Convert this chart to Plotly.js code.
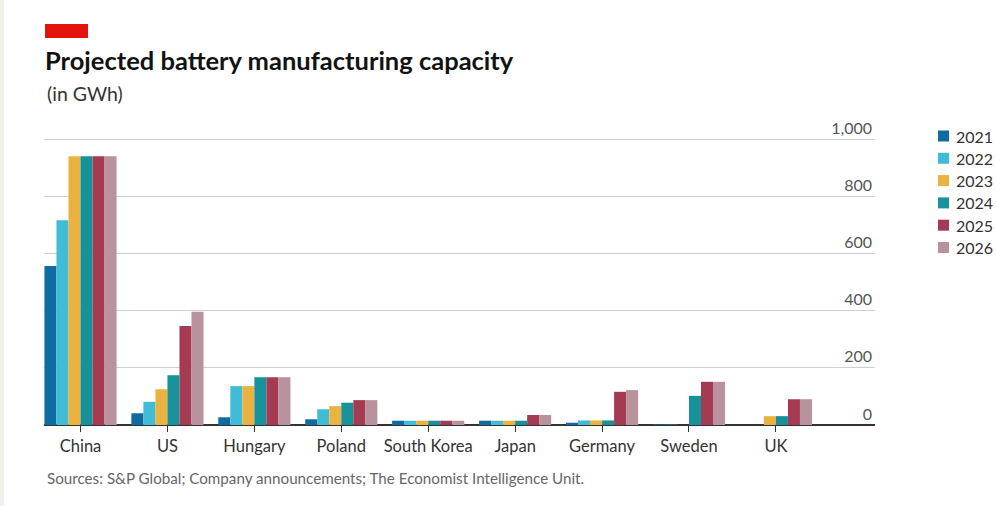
<!DOCTYPE html>
<html>
<head>
<meta charset="utf-8">
<script src="https://cdn.plot.ly/plotly-3.0.1.min.js"></script>
<style>
  html, body { margin: 0; padding: 0; background: #ffffff; }
  #chart { width: 996px; height: 506px; }
</style>
</head>
<body>
<div id="chart"></div>
<script>
// ---- Data (GWh) ----
const countries = ["China", "US", "Hungary", "Poland", "South Korea", "Japan", "Germany", "Sweden", "UK"];
const years = ["2021", "2022", "2023", "2024", "2025", "2026"];
const cap2021 = [556, 41, 27, 20, 15, 15, 8, 2, 0];
const cap2022 = [716, 81, 136, 55, 15, 15, 16, 1, 0];
const cap2023 = [940, 125, 136, 66, 15, 15, 16, 0, 31];
const cap2024 = [940, 174, 167, 78, 15, 15, 16, 102, 31];
const cap2025 = [940, 346, 167, 87, 15, 35, 116, 151, 90];
const cap2026 = [940, 396, 167, 87, 15, 35, 122, 151, 90];
const yTicks = [0, 200, 400, 600, 800, 1000];
const colors = ["#0f6ba0", "#40bcd6", "#ecb23f", "#17929a", "#a43b52", "#b8929d"];

const series = [cap2021, cap2022, cap2023, cap2024, cap2025, cap2026];
const FONT = "Lato, 'Open Sans', sans-serif";

const traces = series.map((vals, i) => ({
  type: "bar",
  name: years[i],
  x: countries,
  y: vals,
  marker: { color: colors[i], line: { width: 0 } },
  hoverinfo: "x+y+name"
}));

// plot area in pixels: x 44..875, y 116..425 ; helpers to place paper-coord items
const PL = 44, PW = 831, PB = 425, PH = 309;
const YMAX = PH / 0.286;   // keeps 1,000 at ~139px and leaves room for its label
const px = v => (v - PL) / PW;
const py = v => (PB - v) / PH;

// legend key (built from years/colors)
const legendShapes = years.map((yr, i) => {
  const cy = 136 + i * 22.3;
  return { type: "rect", xref: "paper", yref: "paper",
    x0: px(938), x1: px(949), y0: py(cy + 5.5), y1: py(cy - 5.5),
    fillcolor: colors[i], line: { width: 0 } };
});
const legendLabels = years.map((yr, i) => {
  const cy = 136 + i * 22.3;
  return { text: yr, xref: "paper", yref: "paper",
    x: px(954), y: py(cy), xanchor: "left", yanchor: "middle",
    showarrow: false, font: { family: FONT, size: 16, color: "#333333" } };
});

const layout = {
  width: 996,
  height: 506,
  paper_bgcolor: "#ffffff",
  plot_bgcolor: "#ffffff",
  margin: { l: PL, r: 996 - PL - PW, t: 506 - 81 - PH, b: 81, autoexpand: false },
  font: { family: FONT, color: "#333333" },
  barmode: "group",
  bargap: 0.17,
  bargroupgap: 0,
  showlegend: false,
  title: {
    text: "<b>Projected battery manufacturing capacity</b>",
    font: { family: FONT, size: 25.5, color: "#121212" },
    xref: "container", yref: "container",
    x: 45 / 996, xanchor: "left",
    y: 1 - 61 / 506, yanchor: "middle"
  },
  xaxis: {
    type: "category",
    range: [-0.42, 9.14],
    showgrid: false,
    showline: false,
    zeroline: false,
    ticks: "outside",
    ticklen: 6,
    tickwidth: 1,
    tickcolor: "#333333",
    tickfont: { family: FONT, size: 16.5, color: "#333333" },
    fixedrange: true
  },
  yaxis: {
    range: [0, YMAX],
    side: "right",
    tickvals: yTicks,
    tickformat: ",d",
    ticklabelposition: "inside",
    ticklabelshift: -11,
    ticks: "",
    showgrid: true,
    gridcolor: "#cfcfcf",
    gridwidth: 1,
    zeroline: true,
    zerolinecolor: "#333333",
    zerolinewidth: 1.5,
    showline: false,
    tickfont: { family: FONT, size: 16, color: "#555555" },
    fixedrange: true
  },
  shapes: [
    { type: "rect", xref: "paper", yref: "paper",
      x0: px(45), x1: px(88), y0: py(38), y1: py(24),
      fillcolor: "#e3120b", line: { width: 0 } },
    { type: "rect", xref: "paper", yref: "paper",
      x0: px(0), x1: px(4), y0: py(506), y1: py(0),
      fillcolor: "#f2f0ea", line: { width: 0 } }
  ].concat(legendShapes),
  annotations: [
    { text: "(in GWh)", xref: "paper", yref: "paper",
      x: px(45), y: py(94), xanchor: "left", yanchor: "middle",
      showarrow: false, font: { family: FONT, size: 19.5, color: "#333333" } },
    { text: "Sources: S&P Global; Company announcements; The Economist Intelligence Unit.",
      xref: "paper", yref: "paper",
      x: px(45), y: py(478), xanchor: "left", yanchor: "middle",
      showarrow: false, font: { family: FONT, size: 15.2, color: "#666666" } }
  ].concat(legendLabels)
};

Plotly.newPlot("chart", traces, layout, { displayModeBar: false, staticPlot: true });
</script>
</body>
</html>
